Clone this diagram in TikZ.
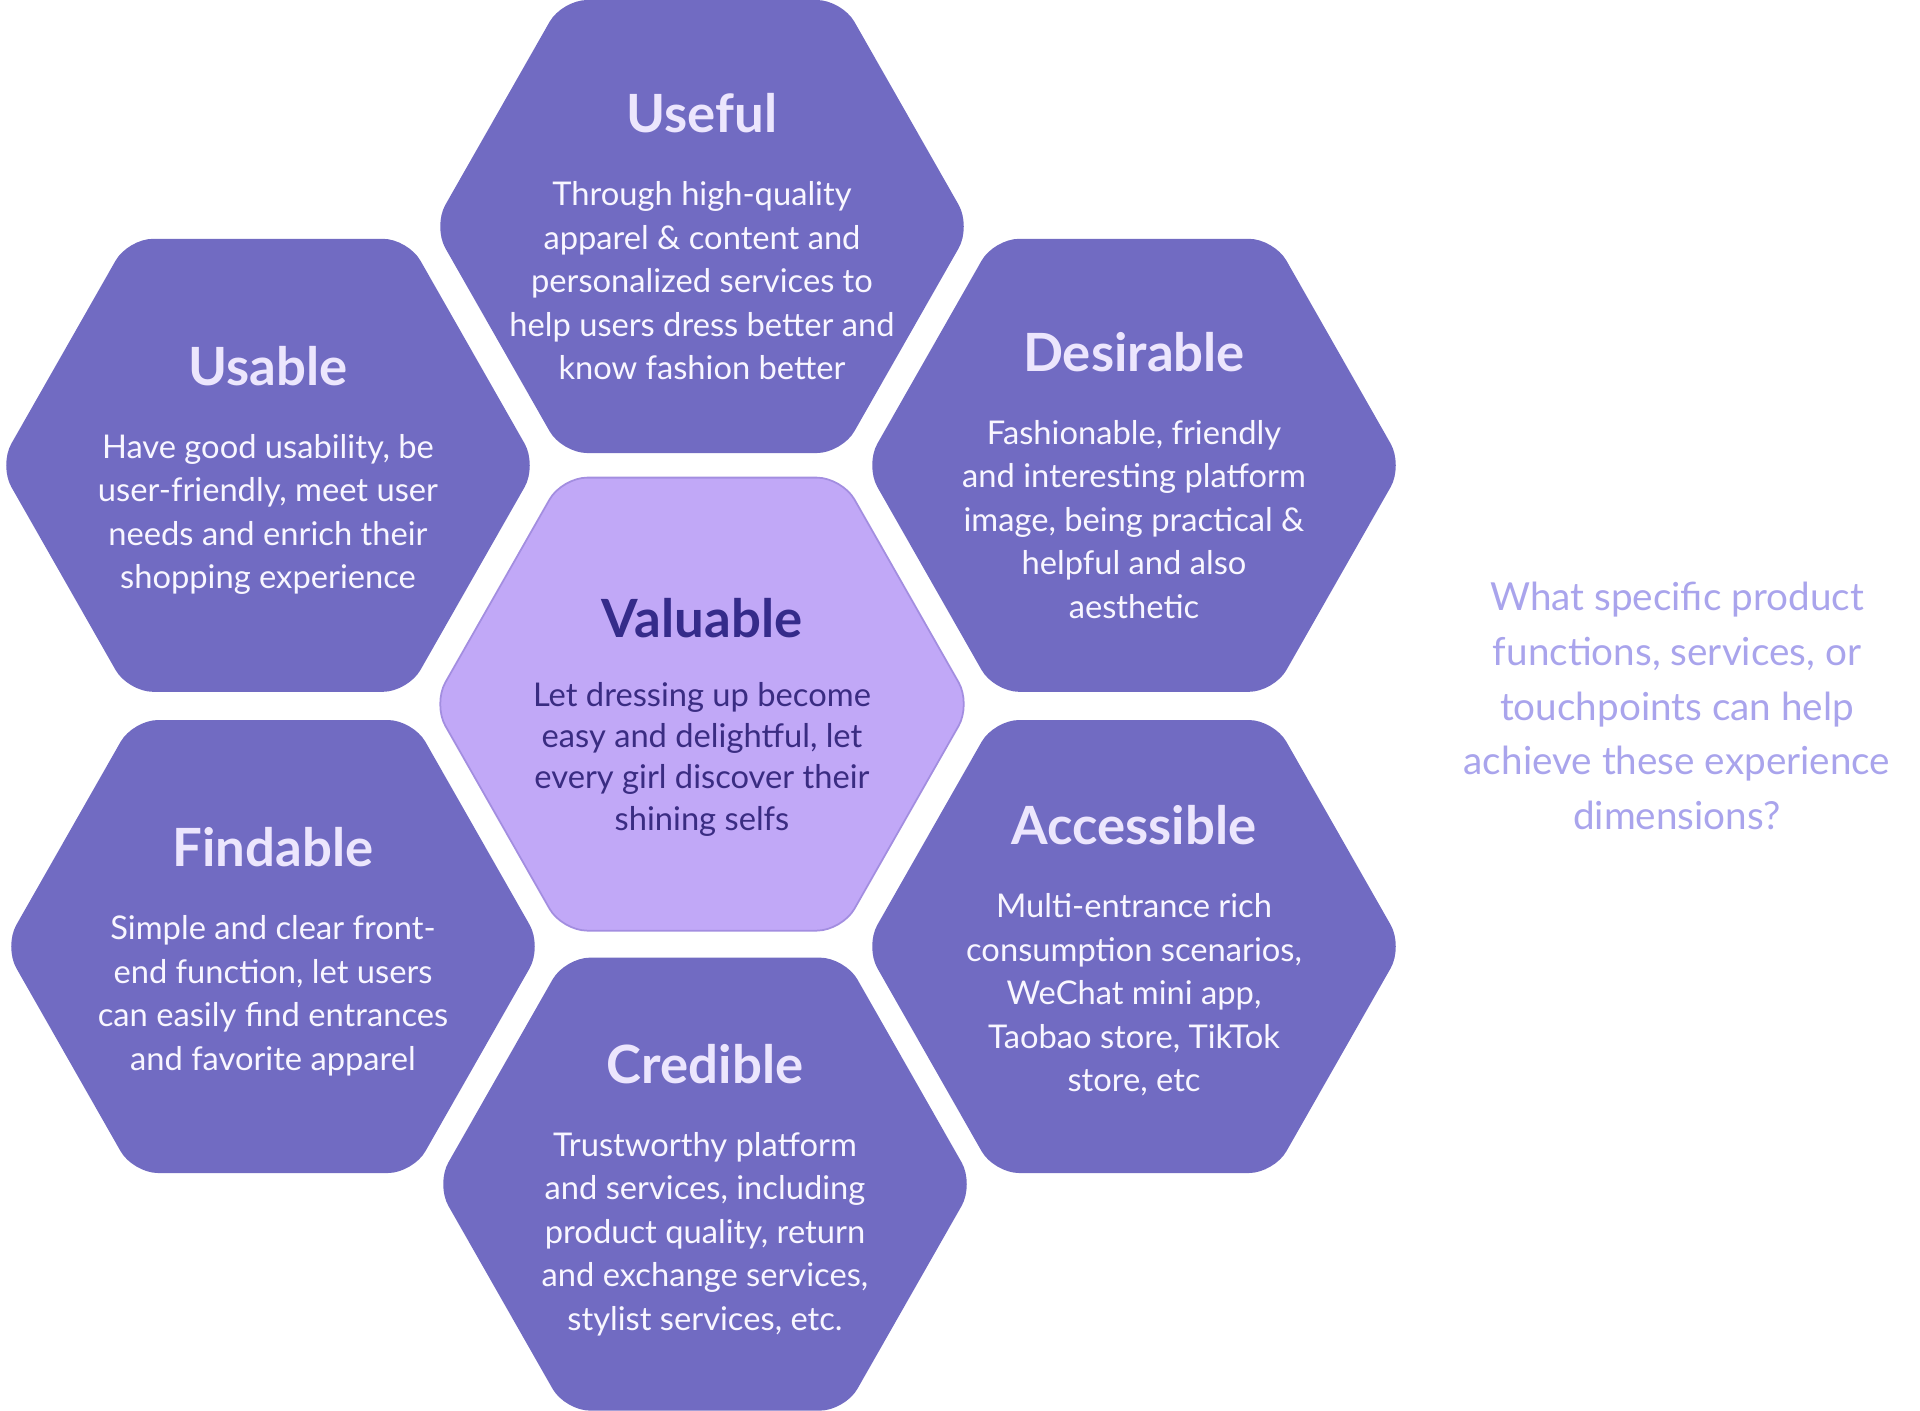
\documentclass[tikz,border=0pt]{standalone}
\usepackage{fontspec}
\setmainfont{Lato}
\usetikzlibrary{positioning}

\definecolor{hexpurple}{RGB}{113,107,194}
\definecolor{titlelav}{RGB}{236,230,253}
\definecolor{bodywhite}{RGB}{248,246,255}
\definecolor{valfill}{RGB}{193,168,247}
\definecolor{valborder}{RGB}{163,142,224}
\definecolor{valtitle}{RGB}{53,43,138}
\definecolor{valbody}{RGB}{58,44,130}
\definecolor{asklav}{RGB}{169,164,236}

% hexagon round a named centre coordinate
\newcommand{\hexcell}[2]{%
\path[#1] ([yshift=2.265cm]#2) -- ([xshift=1.40cm,yshift=2.265cm]#2) -- ([xshift=2.69cm]#2) -- ([xshift=1.40cm,yshift=-2.265cm]#2) -- ([xshift=-1.40cm,yshift=-2.265cm]#2) -- ([xshift=-2.69cm]#2) -- ([xshift=-1.40cm,yshift=2.265cm]#2) -- cycle;}

\begin{document}
\begin{tikzpicture}
\useasboundingbox (0,0) rectangle (19.2,-14.1);
\tikzstyle{cellshape} = [fill=hexpurple,rounded corners=0.25cm]
\tikzstyle{coreshape} = [fill=valfill,draw=valborder,line width=0.5pt,rounded corners=0.25cm]
\tikzstyle{celltitle} = [anchor=base,inner sep=0pt,text=titlelav,font=\fontsize{15}{18}\selectfont\bfseries]
\tikzstyle{celltext} = [anchor=north,align=center,inner sep=0pt,text=bodywhite,font=\fontsize{9.3}{12.4}\selectfont]
%%%%%%%%%%%%%%%%%%%%%%%%%%%%%
% centres of the seven cells
%%%%%%%%%%%%%%%%%%%%%%%%%%%%%
\coordinate (useful) at (7.02,-2.265);
\coordinate (usable) at (2.68,-4.653);
\coordinate (desirable) at (11.34,-4.653);
\coordinate (valuable) at (7.02,-7.041);
\coordinate (findable) at (2.73,-9.465);
\coordinate (accessible) at (11.34,-9.465);
\coordinate (credible) at (7.05,-11.841);
\hexcell{cellshape}{useful}
\hexcell{cellshape}{usable}
\hexcell{cellshape}{desirable}
\hexcell{coreshape}{valuable}
\hexcell{cellshape}{findable}
\hexcell{cellshape}{accessible}
\hexcell{cellshape}{credible}
%%%%%%%%%%%%%%%%%%%%%%%%%%%%%
% Useful
%%%%%%%%%%%%%%%%%%%%%%%%%%%%%
\node (useful_t) [celltitle] at ([yshift=0.94cm]useful){Useful};
\node (useful_b) [celltext,below=0.47cm of useful_t]{Through high-quality\\apparel \& content and\\personalized services to\\help users dress better and\\know fashion better};
%%%%%%%%%%%%%%%%%%%%%%%%%%%%%
% Usable
%%%%%%%%%%%%%%%%%%%%%%%%%%%%%
\node (usable_t) [celltitle] at ([yshift=0.80cm]usable){Usable};
\node (usable_b) [celltext,below=0.47cm of usable_t]{Have good usability, be\\user-friendly, meet user\\needs and enrich their\\shopping experience};
%%%%%%%%%%%%%%%%%%%%%%%%%%%%%
% Desirable
%%%%%%%%%%%%%%%%%%%%%%%%%%%%%
\node (desirable_t) [celltitle] at ([yshift=0.94cm]desirable){Desirable};
\node (desirable_b) [celltext,below=0.47cm of desirable_t]{Fashionable, friendly\\and interesting platform\\image, being practical \&\\helpful and also\\aesthetic};
%%%%%%%%%%%%%%%%%%%%%%%%%%%%%
% Valuable (centre)
%%%%%%%%%%%%%%%%%%%%%%%%%%%%%
\node (valuable_t) [celltitle,text=valtitle] at ([yshift=0.67cm]valuable){Valuable};
\node (valuable_b) [celltext,text=valbody,font=\fontsize{9.3}{11.8}\selectfont,below=0.43cm of valuable_t]{Let dressing up become\\easy and delightful, let\\every girl discover their\\shining selfs};
%%%%%%%%%%%%%%%%%%%%%%%%%%%%%
% Findable
%%%%%%%%%%%%%%%%%%%%%%%%%%%%%
\node (findable_t) [celltitle] at ([yshift=0.80cm]findable){Findable};
\node (findable_b) [celltext,below=0.47cm of findable_t]{Simple and clear front-\\end function, let users\\can easily find entrances\\and favorite apparel};
%%%%%%%%%%%%%%%%%%%%%%%%%%%%%
% Accessible
%%%%%%%%%%%%%%%%%%%%%%%%%%%%%
\node (accessible_t) [celltitle] at ([yshift=1.02cm]accessible){Accessible};
\node (accessible_b) [celltext,below=0.47cm of accessible_t]{Multi-entrance rich\\consumption scenarios,\\WeChat mini app,\\Taobao store, TikTok\\store, etc};
%%%%%%%%%%%%%%%%%%%%%%%%%%%%%
% Credible
%%%%%%%%%%%%%%%%%%%%%%%%%%%%%
\node (credible_t) [celltitle] at ([yshift=1.01cm]credible){Credible};
\node (credible_b) [celltext,below=0.47cm of credible_t]{Trustworthy platform\\and services, including\\product quality, return\\and exchange services,\\stylist services, etc.};
%%%%%%%%%%%%%%%%%%%%%%%%%%%%%
% question on the right
%%%%%%%%%%%%%%%%%%%%%%%%%%%%%
\node (ask) [align=center,inner sep=0pt,text=asklav,font=\fontsize{11}{15.6}\selectfont] at (16.77,-7.06){What specific product\\functions, services, or\\touchpoints can help\\achieve these experience\\dimensions?};
\end{tikzpicture}
\end{document}
